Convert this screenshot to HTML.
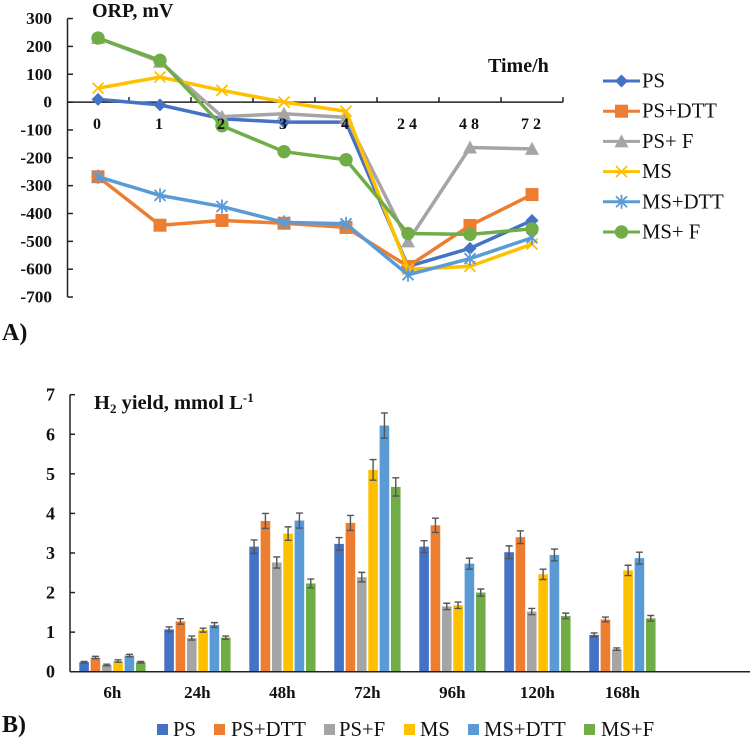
<!DOCTYPE html>
<html>
<head>
<meta charset="utf-8">
<style>
html,body{margin:0;padding:0;background:#fff;width:750px;height:743px;overflow:hidden}
svg{display:block;font-family:"Liberation Serif",serif}
text{fill:#111}
.b{font-weight:bold}
</style>
</head>
<body>
<svg id="figure" width="750" height="743" viewBox="0 0 750 743" xmlns="http://www.w3.org/2000/svg">
<g id="line-chart"></g>
<g id="bar-chart"></g>
<text class="b" x="92" y="17" font-size="20">ORP, mV</text>
<text class="b" x="488" y="72" font-size="20">Time/h</text>
<text class="b" x="2" y="340" font-size="24">A)</text>
<text class="b" x="2" y="732" font-size="24">B)</text>
<text class="b" x="94" y="409" font-size="20.5">H<tspan font-size="13" dy="4">2</tspan><tspan dy="-4"> yield, mmol L</tspan><tspan font-size="13" dy="-7">-1</tspan></text>
</svg>
<script>
// Shared series
var seriesNames = ["PS", "PS+DTT", "PS+ F", "MS", "MS+DTT", "MS+ F"];
var barLegendNames = ["PS", "PS+DTT", "PS+F", "MS", "MS+DTT", "MS+F"];
var seriesColors = ["#4472C4", "#ED7D31", "#A5A5A5", "#FFC000", "#5B9BD5", "#70AD47"];
var seriesMarkers = ["diamond", "square", "triangle", "x", "star", "circle"];

// Panel A values
var orpCategories = ["0", "1", "2", "3", "4", "2 4", "4 8", "7 2"];
var orpTicks = [300, 200, 100, 0, -100, -200, -300, -400, -500, -600, -700];
var orpPS = [10, -10, -60, -72, -72, -590, -525, -425];
var orpPSDTT = [-268, -442, -425, -435, -450, -590, -443, -332];
var orpPSF = [230, 145, -52, -42, -55, -500, -163, -168];
var orpMS = [50, 90, 42, 0, -33, -600, -590, -510];
var orpMSDTT = [-268, -335, -375, -432, -437, -620, -562, -487];
var orpMSF = [230, 150, -85, -178, -207, -472, -475, -455];

// Panel B values
var h2Categories = ["6h", "24h", "48h", "72h", "96h", "120h", "168h", ""];
var h2Ticks = [0, 1, 2, 3, 4, 5, 6, 7];
var h2PS = [0.24, 1.07, 3.16, 3.23, 3.16, 3.02, 0.93];
var h2PSDTT = [0.36, 1.27, 3.81, 3.76, 3.70, 3.40, 1.32];
var h2PSF = [0.17, 0.85, 2.76, 2.39, 1.65, 1.52, 0.57];
var h2MS = [0.27, 1.05, 3.49, 5.10, 1.68, 2.46, 2.56];
var h2MSDTT = [0.41, 1.18, 3.82, 6.22, 2.73, 2.95, 2.87];
var h2MSF = [0.24, 0.86, 2.23, 4.67, 2.00, 1.41, 1.35];
var h2ErrPS = [0.02, 0.06, 0.17, 0.16, 0.15, 0.16, 0.05];
var h2ErrPSDTT = [0.03, 0.07, 0.19, 0.19, 0.18, 0.16, 0.06];
var h2ErrPSF = [0.02, 0.05, 0.14, 0.12, 0.08, 0.08, 0.03];
var h2ErrMS = [0.03, 0.05, 0.17, 0.26, 0.08, 0.13, 0.13];
var h2ErrMSDTT = [0.03, 0.06, 0.19, 0.32, 0.14, 0.15, 0.15];
var h2ErrMSF = [0.02, 0.04, 0.11, 0.23, 0.09, 0.07, 0.07];

var NS = "http://www.w3.org/2000/svg";
function mk(parent, tag, attrs, txt) {
  var e = document.createElementNS(NS, tag);
  for (var k in attrs) e.setAttribute(k, attrs[k]);
  if (txt !== undefined) e.textContent = txt;
  parent.appendChild(e);
  return e;
}

// Axis functions
function orpY(v) { return 102.1 - v * 0.2785; }
function orpX(i) { return 98 + i * 62; }
function h2Y(v) { return 671.7 - v * 39.57; }
function h2GroupStart(i) { return 70 + i * 85; }
function h2BarX(i, s) { return h2GroupStart(i) + 9.3 + s * 11.33; }

function drawMarker(g, type, x, y, color) {
  var m;
  if (type === "diamond") {
    m = mk(g, "polygon", {points: [x, y - 6.5, x + 6.5, y, x, y + 6.5, x - 6.5, y].join(" "), fill: color});
  } else if (type === "square") {
    m = mk(g, "rect", {x: x - 6.5, y: y - 6.5, width: 13, height: 13, fill: color});
  } else if (type === "triangle") {
    m = mk(g, "polygon", {points: [x, y - 7, x + 7, y + 6, x - 7, y + 6].join(" "), fill: color});
  } else if (type === "circle") {
    m = mk(g, "circle", {cx: x, cy: y, r: 6.7, fill: color});
  } else {
    var d = "M" + (x - 5.5) + " " + (y - 5.5) + "L" + (x + 5.5) + " " + (y + 5.5) + "M" + (x - 5.5) + " " + (y + 5.5) + "L" + (x + 5.5) + " " + (y - 5.5);
    if (type === "star") d += "M" + x + " " + (y - 7) + "V" + (y + 7);
    m = mk(g, "path", {d: d, stroke: color, "stroke-width": 1.8, fill: "none"});
  }
  return m;
}

(function drawLineChart() {
  var root = document.getElementById("line-chart");
  var data = [orpPS, orpPSDTT, orpPSF, orpMS, orpMSDTT, orpMSF];
  var yAxis = mk(root, "line", {x1: 67.5, x2: 67.5, y1: orpY(300), y2: orpY(-700), stroke: "#222", "stroke-width": 1.5});
  
  
  var xAxis = mk(root, "line", {x1: 67.5, x2: orpX(7) + 31, y1: orpY(0), y2: orpY(0), stroke: "#222", "stroke-width": 1.5});
  
  
  orpTicks.forEach(function (t) {
    var tick = mk(root, "line", {x1: 67.5, x2: 73, y1: orpY(t), y2: orpY(t), stroke: "#222", "stroke-width": 1.5});
    
    
    var lab = mk(root, "text", {x: 52, y: orpY(t) + 5.5, "text-anchor": "end", "font-size": 17.3, "font-weight": "bold"}, String(t));
    
    
  });
  orpCategories.forEach(function (c, i) {
    var tick = mk(root, "line", {x1: orpX(i) + 31, x2: orpX(i) + 31, y1: orpY(0) - 5, y2: orpY(0), stroke: "#222", "stroke-width": 1.5});
    
    
  });
  data.forEach(function (vals, s) {
    var g = mk(root, "g", {});
    
    
    var pts = vals.map(function (v, i) { return orpX(i) + "," + orpY(v); }).join(" ");
    var line = mk(g, "polyline", {points: pts, fill: "none", stroke: seriesColors[s], "stroke-width": 3.5, "stroke-linejoin": "round"});
    
    
    vals.forEach(function (v, i) {
      var m = drawMarker(g, seriesMarkers[s], orpX(i), orpY(v), seriesColors[s]);
      
      
    });
  });
  orpCategories.forEach(function (c, i) {
    var lab = mk(root, "text", {x: orpX(i) - 1, y: 129, "text-anchor": "middle", "font-size": 16, "font-weight": "bold"}, c);
    
    
  });
  var legend = mk(root, "g", {});
  
  
  seriesNames.forEach(function (n, s) {
    var ly = 81 + s * 30.2;
    var g = mk(legend, "g", {});
    
    
    mk(g, "line", {x1: 603, x2: 640, y1: ly, y2: ly, stroke: seriesColors[s], "stroke-width": 3});
    drawMarker(g, seriesMarkers[s], 621.5, ly, seriesColors[s]);
    mk(g, "text", {x: 642, y: ly + 6.5, "font-size": 20.7}, n);
  });
})();

(function drawBarChart() {
  var root = document.getElementById("bar-chart");
  var data = [h2PS, h2PSDTT, h2PSF, h2MS, h2MSDTT, h2MSF];
  var errs = [h2ErrPS, h2ErrPSDTT, h2ErrPSF, h2ErrMS, h2ErrMSDTT, h2ErrMSF];
  h2Ticks.forEach(function (t) {
    var tick = mk(root, "line", {x1: 70, x2: 75, y1: h2Y(t), y2: h2Y(t), stroke: "#222", "stroke-width": 1.5});
    
    
    var lab = mk(root, "text", {x: 55, y: h2Y(t) + 6, "text-anchor": "end", "font-size": 18, "font-weight": "bold"}, String(t));
    
    
  });
  h2Categories.forEach(function (c, i) {
    if (!c) return;
    var lab = mk(root, "text", {x: h2GroupStart(i) + 42.3, y: 698, "text-anchor": "middle", "font-size": 17, "font-weight": "bold"}, c);
    
    
  });
  data.forEach(function (vals, s) {
    vals.forEach(function (v, i) {
      var bar = mk(root, "rect", {x: h2BarX(i, s), y: h2Y(v), width: 9.6, height: h2Y(0) - h2Y(v), fill: seriesColors[s]});
      
      
      var e = errs[s][i], cx = h2BarX(i, s) + 4.8;
      var d = "M" + cx + " " + h2Y(v + e) + "V" + h2Y(v - e) +
              "M" + (cx - 3.5) + " " + h2Y(v + e) + "H" + (cx + 3.5) +
              "M" + (cx - 3.5) + " " + h2Y(v - e) + "H" + (cx + 3.5);
      var err = mk(root, "path", {d: d, stroke: "#555", "stroke-width": 1.4, fill: "none"});
      
      
    });
  });
  var yAxis = mk(root, "line", {x1: 70, x2: 70, y1: h2Y(7), y2: h2Y(0), stroke: "#222", "stroke-width": 1.5});
  
  
  var xAxis = mk(root, "line", {x1: 70, x2: 750, y1: h2Y(0), y2: h2Y(0), stroke: "#222", "stroke-width": 1.5});
  
  
  var legend = mk(root, "g", {});
  
  
  var swatchStarts = [157, 214, 324, 404, 468, 584];
  var textStarts = [173, 231, 339, 420, 484, 601];
  barLegendNames.forEach(function (n, s) {
    var g = mk(legend, "g", {});
    
    
    mk(g, "rect", {x: swatchStarts[s], y: 724, width: 11, height: 11, fill: seriesColors[s]});
    mk(g, "text", {x: textStarts[s], y: 736, "font-size": 20.7}, n);
  });
})();
</script>
</body>
</html>
